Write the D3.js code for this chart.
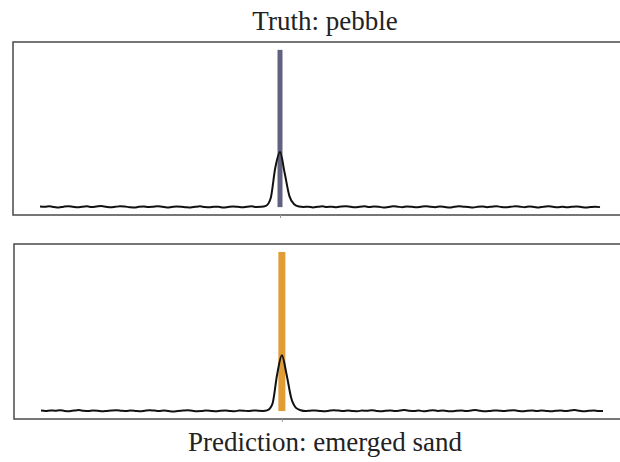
<!DOCTYPE html>
<html>
<head>
<meta charset="utf-8">
<script src="https://cdn.jsdelivr.net/npm/d3@7"></script>
<style>
  html, body { margin: 0; padding: 0; background: #fff; }
  svg { display: block; }
  .label { font-family: "Liberation Serif", "Times New Roman", "DejaVu Serif", serif; }
</style>
</head>
<body>
<svg id="chart" width="620" height="462"></svg>
<script>
// ---- data ----
const titleTop = "Truth: pebble";
const titleBottom = "Prediction: emerged sand";
const classIndex = 51;          // position of the labelled class on the x axis
const barValue = [1];           // one-hot indicator height

const truthSignal = [
0.004,0.002,0.005,0.001,-0.002,0.003,0.006,0.002,-0.001,0.003,
0.005,0.001,0.004,0.007,0.003,-0.001,0.002,0.005,0.004,0.000,
-0.003,0.002,0.004,0.001,0.003,0.006,0.002,-0.002,0.001,0.004,
0.003,0.000,-0.002,0.002,0.005,0.001,-0.001,0.003,0.002,-0.003,
0.001,0.004,0.002,-0.001,0.003,0.005,0.001,0.002,0.008,0.055,
0.250,0.350,0.215,0.070,0.018,0.004,0.001,0.003,-0.002,0.002,
0.005,0.001,0.003,0.000,0.004,0.006,0.002,-0.001,0.003,0.005,
0.001,0.004,0.002,-0.002,0.001,0.005,0.003,0.000,0.004,0.002,
-0.001,0.003,0.006,0.002,0.000,0.004,0.001,-0.003,0.002,0.005,
0.003,0.001,-0.002,0.002,0.004,0.000,0.003,0.006,0.001,-0.001,
0.002,0.005,0.003,0.000,0.004,0.001,-0.002,0.003,0.005,0.002,
0.000,0.003,-0.001,0.002,0.004,0.001,-0.002,0.001,0.003,0.000
];

const predSignal = [
0.003,0.001,0.004,0.002,0.005,0.001,-0.001,0.003,0.006,0.002,
0.000,0.004,0.002,-0.002,0.001,0.004,0.005,0.002,0.000,0.003,
0.001,-0.002,0.002,0.005,0.003,0.001,0.004,0.000,-0.003,0.001,
0.003,0.005,0.002,-0.001,0.000,0.003,0.001,-0.002,0.002,0.004,
0.001,-0.001,0.003,0.002,0.000,0.004,0.002,0.001,0.006,0.045,
0.230,0.350,0.230,0.080,0.020,0.005,0.000,0.002,0.004,0.001,
-0.002,0.002,0.005,0.003,0.001,0.004,0.000,-0.001,0.003,0.002,
0.005,0.001,-0.002,0.002,0.004,0.001,0.003,0.006,0.002,0.000,
0.003,-0.001,0.002,0.005,0.001,0.003,0.000,-0.002,0.002,0.004,
0.001,0.003,0.006,0.002,-0.001,0.001,0.004,0.002,0.000,0.003,
0.005,0.001,-0.002,0.002,0.004,0.000,0.003,0.001,-0.001,0.002,
0.004,0.001,0.003,0.006,0.002,-0.001,0.002,0.004,0.001,0.000
];

const panelColors = ["#585879", "#e0972a"];

// ---- drawing ----
const svg = d3.select("#chart");

const panels = [
  { box: {x: 13, y: 42, w: 640, h: 173}, xr: [40, 600], data: truthSignal, color: panelColors[0], barW: 5 },
  { box: {x: 14, y: 244, w: 640, h: 175}, xr: [41, 603], data: predSignal, color: panelColors[1], barW: 7 }
];

panels.forEach(p => {
  const n = p.data.length;
  const x = d3.scaleLinear().domain([0, n - 1]).range(p.xr);
  const y = d3.scaleLinear().domain([-0.05, 1.05]).range([p.box.y + p.box.h, p.box.y]);
  const g = svg.append("g");

  // frame
  g.append("rect")
    .attr("x", p.box.x).attr("y", p.box.y)
    .attr("width", p.box.w).attr("height", p.box.h)
    .attr("fill", "none").attr("stroke", "#4a4a4a").attr("stroke-width", 1.5);

  // single x tick under the labelled class
  const ax = g.append("g")
    .attr("transform", `translate(0,${p.box.y + p.box.h})`)
    .call(d3.axisBottom(x).tickValues([classIndex]).tickSize(3).tickFormat(""));
  ax.select(".domain").remove();
  ax.selectAll("line").attr("stroke", "#999");

  // indicator bar
  g.selectAll("rect.bar").data(barValue).join("rect")
    .attr("class", "bar")
    .attr("x", x(classIndex) - p.barW / 2)
    .attr("width", p.barW)
    .attr("y", d => y(d))
    .attr("height", d => y(0) - y(d))
    .attr("fill", p.color)
    .attr("opacity", 0.95);

  // signal line
  const line = d3.line()
    .x((d, i) => x(i))
    .y(d => y(d))
    .curve(d3.curveMonotoneX);
  g.append("path")
    .datum(p.data)
    .attr("d", line)
    .attr("fill", "none")
    .attr("stroke", "#111")
    .attr("stroke-width", 2)
    .attr("stroke-linejoin", "round");
});

svg.append("text")
  .attr("class", "label")
  .attr("x", 325).attr("y", 30)
  .attr("text-anchor", "middle")
  .attr("font-size", 27)
  .attr("fill", "#222")
  .text(titleTop);

svg.append("text")
  .attr("class", "label")
  .attr("x", 325).attr("y", 451)
  .attr("text-anchor", "middle")
  .attr("font-size", 27)
  .attr("fill", "#222")
  .text(titleBottom);
</script>
</body>
</html>
